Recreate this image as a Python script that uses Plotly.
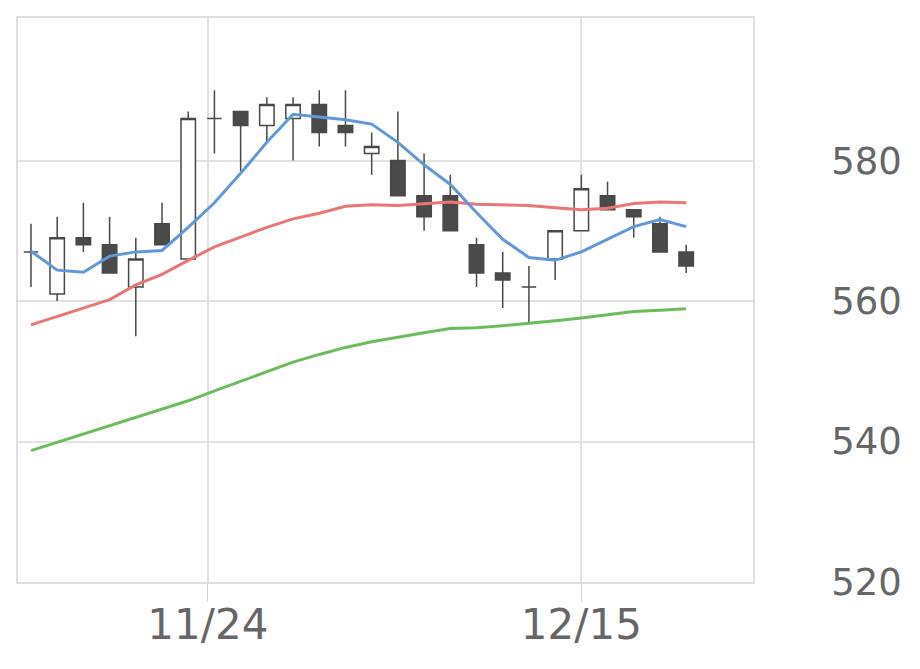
import plotly.graph_objects as go

dates = ["11/15", "11/16", "11/17", "11/20", "11/21", "11/22", "11/24", "11/27", "11/28",
         "11/29", "11/30", "12/01", "12/04", "12/05", "12/06", "12/07", "12/08", "12/11",
         "12/12", "12/13", "12/14", "12/15", "12/18", "12/19", "12/20", "12/21"]

open_ = [567, 561, 569, 568, 562, 571, 566, 586, 587, 585, 586, 588, 585,
         581, 580, 575, 575, 568, 564, 562, 566, 570, 575, 573, 571, 567]
high = [571, 572, 574, 572, 569, 574, 587, 590, 587, 589, 589, 590, 590,
        584, 587, 581, 578, 569, 567, 565, 570, 578, 577, 573, 572, 568]
low = [562, 560, 567, 564, 555, 568, 566, 581, 578.5, 582.5, 580, 582, 582,
       578, 575, 570, 570, 562, 559, 557, 563, 570, 573, 569, 567, 564]
close = [567, 569, 568, 564, 566, 568, 586, 586, 585, 588, 588, 584, 584,
         582, 575, 572, 570, 564, 563, 562, 570, 576, 573, 572, 567, 565]

ma_short = [567.1, 564.4, 564.1, 566.4, 567.0, 567.2, 570.5, 574.0, 578.2, 582.6, 586.6, 586.2, 585.8,
            585.2, 582.6, 579.4, 576.6, 572.6, 568.8, 566.2, 565.8, 567.0, 568.8, 570.6, 571.6, 570.6]
ma_mid = [556.6, 557.8, 559.0, 560.2, 562.3, 563.8, 565.8, 567.7, 569.1, 570.5, 571.7, 572.5, 573.5,
          573.7, 573.6, 573.9, 574.1, 573.8, 573.7, 573.6, 573.3, 573.0, 573.2, 573.9, 574.1, 574.0]
ma_long = [538.7, 539.9, 541.1, 542.3, 543.4, 544.6, 545.8, 547.2, 548.6, 549.9, 551.3, 552.4, 553.4,
           554.2, 554.9, 555.5, 556.1, 556.2, 556.5, 556.8, 557.2, 557.6, 558.1, 558.5, 558.7, 558.9]

tick_positions = [6.75, 21]
tick_labels = ["11/24", "12/15"]
y_ticks = [520, 540, 560, 580]

x = list(range(len(dates)))

fig = go.Figure()
fig.add_trace(go.Candlestick(
    x=x, open=open_, high=high, low=low, close=close,
    increasing=dict(line=dict(color="#484848", width=1.5), fillcolor="#ffffff"),
    decreasing=dict(line=dict(color="#484848", width=1.5), fillcolor="#4a4a4a"),
    whiskerwidth=0, showlegend=False, hovertext=dates,
))
fig.add_trace(go.Scatter(x=x, y=ma_long, mode="lines",
                         line=dict(color="#6bbd5c", width=3), showlegend=False))
fig.add_trace(go.Scatter(x=x, y=ma_mid, mode="lines",
                         line=dict(color="#ea7676", width=3), showlegend=False))
fig.add_trace(go.Scatter(x=x, y=ma_short, mode="lines",
                         line=dict(color="#6198da", width=3), showlegend=False))

fig.update_layout(
    width=920, height=669,
    margin=dict(l=8, r=175, t=8, b=95),
    paper_bgcolor="white", plot_bgcolor="white",
    boxgap=0.45, boxgroupgap=0,
    font=dict(family="DejaVu Sans", color="#666666"),
    xaxis=dict(
        range=[-0.495, 27.55], tickvals=tick_positions, ticktext=tick_labels,
        ticks="outside", ticklen=18, tickcolor="#c9d5ea", tickwidth=1,
        ticklabelstandoff=-13,
        showgrid=True, gridcolor="#e2e2e2", gridwidth=1.5,
        showline=True, linecolor="#dedede", linewidth=1.5, mirror=True,
        zeroline=False, rangeslider=dict(visible=False),
        tickfont=dict(size=42, color="#666666"),
    ),
    yaxis=dict(
        side="right", range=[520, 600.3], tickvals=y_ticks,
        ticks="", ticklabelstandoff=69,
        showgrid=True, gridcolor="#e2e2e2", gridwidth=1.5,
        showline=True, linecolor="#dedede", linewidth=1.5, mirror=True,
        zeroline=False,
        tickfont=dict(size=37, color="#666666"),
    ),
)

fig.write_html("out.html")
